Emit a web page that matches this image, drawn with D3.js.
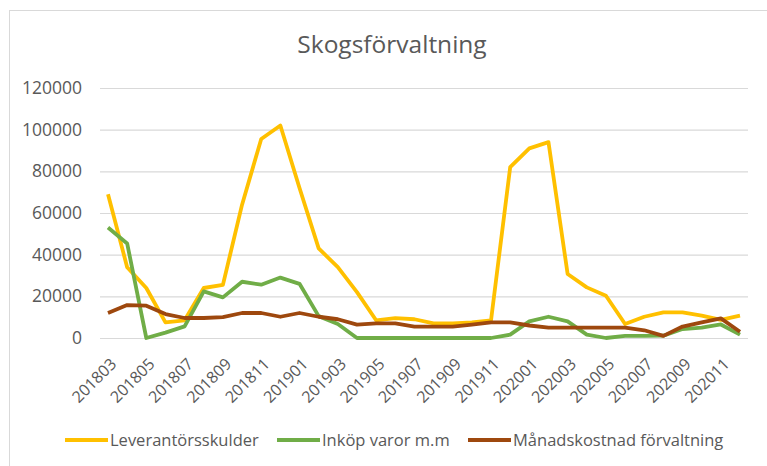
<!DOCTYPE html>
<html><head><meta charset="utf-8">
<script src="https://cdn.jsdelivr.net/npm/d3@7"></script>
<style>body{margin:0;background:#fff;} svg{display:block;font-family:"Open Sans",sans-serif;}</style>
</head><body>
<svg id="c" width="767" height="466"></svg>
<script>
const months = ["201803","201804","201805","201806","201807","201808","201809","201810","201811","201812",
"201901","201902","201903","201904","201905","201906","201907","201908","201909","201910","201911","201912",
"202001","202002","202003","202004","202005","202006","202007","202008","202009","202010","202011","202012"];
const leverantor = [69000,34000,24000,7500,8500,24000,25500,64000,95500,102000,
72000,43000,34000,22000,8500,9500,9000,7000,7000,7500,8500,82000,
91000,94000,30700,24300,20300,6700,10200,12300,12300,10700,8700,10700];
const inkop = [53000,45400,0,2600,5600,22400,19500,27000,25600,29000,
26000,10500,6700,0,0,0,0,0,0,0,0,1600,
8000,10200,8000,1600,0,1000,1000,1100,4300,5000,6500,1600];
const manad = [12000,15800,15500,11500,9600,9600,10000,12000,12000,10200,
12000,10200,9000,6400,7000,7000,5500,5500,5500,6400,7500,7500,
6000,5000,5000,5000,5000,5000,3700,1000,5500,7500,9400,3000];
const yTicks = [0,20000,40000,60000,80000,100000,120000];
const seriesNames = ["Leverantörsskulder","Inköp varor m.m","Månadskostnad förvaltning"];
const seriesColors = ["#FFC000","#70AD47","#9E480E"];
const seriesData = [leverantor, inkop, manad];

const svg = d3.select("#c");
svg.append("rect").attr("x",9.5).attr("y",10.5).attr("width",800).attr("height",500)
  .attr("fill","#fff").attr("stroke","#d9d9d9");

const x = d3.scalePoint().domain(months).range([108,740]);
const y = d3.scaleLinear().domain([0,120000]).range([338,88]);

svg.append("text").attr("x",392).attr("y",53).attr("text-anchor","middle")
  .attr("font-size",24.5).attr("fill","#595959").text("Skogsförvaltning");

const yAxis = svg.append("g").attr("transform","translate(100,0)")
  .call(d3.axisLeft(y).tickValues(yTicks).tickSize(-648).tickPadding(18).tickFormat(d3.format("d")));
yAxis.select(".domain").remove();
yAxis.selectAll(".tick line").attr("stroke","#d9d9d9").attr("stroke-width",1.2);
yAxis.selectAll(".tick text").attr("fill","#595959").attr("font-size",17.5).attr("font-family","Open Sans");

const labels = months.filter((m,i)=>i%2===0);
const xAxis = svg.append("g").attr("transform","translate(0,338)")
  .call(d3.axisBottom(x).tickValues(labels).tickSize(0).tickPadding(0));
xAxis.select(".domain").remove();
xAxis.selectAll(".tick text").attr("fill","#595959").attr("font-size",16).attr("font-family","Open Sans")
  .attr("text-anchor","end").attr("dy",0).attr("transform","translate(9,27) rotate(-45)");

const line = d3.line().x((d,i)=>x(months[i])).y(d=>y(d));
seriesData.forEach((s,k)=>{
  svg.append("path").datum(s).attr("d",line).attr("fill","none")
    .attr("stroke",seriesColors[k]).attr("stroke-width",3.8).attr("stroke-linejoin","round");
});

const legX = [65,277,468];
seriesNames.forEach((n,k)=>{
  const g = svg.append("g").attr("transform",`translate(${legX[k]},440)`);
  g.append("line").attr("x1",0).attr("x2",43).attr("y1",0).attr("y2",0)
    .attr("stroke",seriesColors[k]).attr("stroke-width",4);
  g.append("text").attr("x",45).attr("y",6).attr("font-size",16.5).attr("fill","#595959").text(n);
});
</script>
</body></html>
